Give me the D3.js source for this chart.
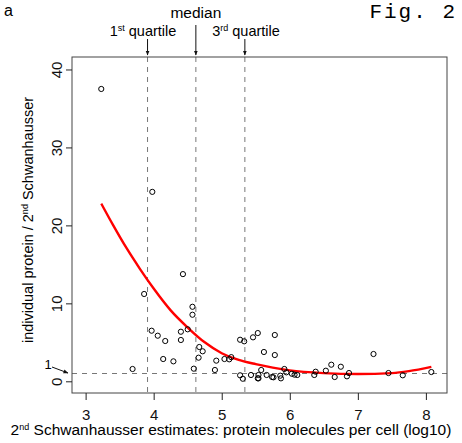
<!DOCTYPE html>
<html><head><meta charset="utf-8">
<script src="https://cdn.jsdelivr.net/npm/d3@7"></script>
<style>body{margin:0;background:#fff}svg{display:block}</style>
</head><body>
<script>
// Data
const pointsX = [3.23,3.98,4.43,3.86,4.57,4.57,3.97,4.06,4.17,4.40,4.50,4.40,4.67,4.72,4.66,4.14,4.29,3.69,4.59,4.92,4.90,5.04,5.11,5.14,5.27,5.33,5.27,5.31,5.43,5.46,5.53,5.53,5.78,5.62,5.78,5.54,5.54,5.58,5.66,5.74,5.76,5.86,5.87,5.92,5.95,6.03,6.07,6.11,6.36,6.38,6.53,6.61,6.66,6.75,6.84,6.87,7.23,7.45,7.66,8.08];
const pointsY = [37.5,24.3,13.75,11.2,9.56,8.54,6.49,5.85,5.17,6.36,6.67,5.3,4.4,3.85,3.03,2.86,2.56,1.58,1.62,2.65,1.45,2.86,2.82,3.1,5.33,5.13,0.77,0.33,0.81,5.64,6.19,0.38,5.94,3.76,3.37,0.81,0.38,1.45,0.81,0.55,0.51,0.72,0.38,1.58,1.15,0.97,0.85,0.81,0.81,1.23,1.36,2.13,0.55,1.87,0.64,1.06,3.5,1.06,0.77,1.19];
const fitX = [3.23,3.4,3.6,3.8,4.0,4.25,4.5,4.75,5.0,5.25,5.5,5.75,6.0,6.5,7.0,7.5,7.75,8.08];
const fitY = [22.8,20.1,17.1,14.4,11.9,9.1,6.9,5.0,3.6,2.75,2.2,1.75,1.4,1.05,0.93,1.05,1.3,1.85];
const quartiles = [3.91,4.62,5.34];
const xTicks = [3,4,5,6,7,8];
const yTicks = [0,10,20,30,40];
const refLine = 1;

const SANS="'Liberation Sans', Arial, Helvetica, sans-serif";
const W=462,H=443;
const L=72,R=447,T=57,B=393;
const svg=d3.select("body").append("svg").attr("width",W).attr("height",H)
  .style("font-family",SANS);
const x=d3.scaleLinear().domain([2.80,8.31]).range([L,R]);
const y=d3.scaleLinear().domain([-1.5,41.6]).range([B,T]);

// dashed reference lines
svg.selectAll("line.q").data(quartiles).enter().append("line")
  .attr("x1",d=>x(d)).attr("x2",d=>x(d)).attr("y1",T).attr("y2",B)
  .attr("stroke","#777").attr("stroke-width",1).attr("stroke-dasharray","5,5");
svg.append("line").attr("x1",L).attr("x2",R).attr("y1",y(refLine)).attr("y2",y(refLine))
  .attr("stroke","#777").attr("stroke-width",1).attr("stroke-dasharray","5,5");

// fit line
const fit=fitX.map((d,i)=>[d,fitY[i]]);
svg.append("path").datum(fit).attr("fill","none").attr("stroke","#ff0000").attr("stroke-width",2.4)
  .attr("d",d3.line().x(d=>x(d[0])).y(d=>y(d[1])).curve(d3.curveMonotoneX));

// points
svg.selectAll("circle").data(pointsX.map((d,i)=>[d,pointsY[i]])).enter().append("circle")
  .attr("cx",d=>x(d[0])).attr("cy",d=>y(d[1])).attr("r",2.6)
  .attr("fill","none").attr("stroke","#000").attr("stroke-width",1);

// box
svg.append("rect").attr("x",L).attr("y",T).attr("width",R-L).attr("height",B-T)
  .attr("fill","none").attr("stroke","#444").attr("stroke-width",1);

// x axis
const xa=svg.append("g").attr("transform",`translate(0,${B})`)
  .call(d3.axisBottom(x).tickValues(xTicks).tickSize(7).tickPadding(9).tickFormat(d3.format("d")));
xa.select(".domain").remove();
xa.selectAll("line").attr("stroke","#222");
xa.selectAll("text").style("font-size","15px").style("font-family",SANS).attr("fill","#111");

// y axis
const ya=svg.append("g").attr("transform",`translate(${L},0)`)
  .call(d3.axisLeft(y).tickValues(yTicks).tickSize(6).tickFormat(d3.format("d")));
ya.select(".domain").remove();
ya.selectAll("line").attr("stroke","#222");
ya.selectAll("text").remove();
ya.selectAll(".tick").append("text")
  .attr("transform","translate(-10,0) rotate(-90)").attr("text-anchor","middle")
  .style("font-size","15px").style("font-family",SANS).attr("fill","#111")
  .text(d=>d);

// "1" marker and arrow
svg.append("defs").append("marker").attr("id","ah").attr("viewBox","0 0 10 10").attr("refX",9).attr("refY",5)
  .attr("markerWidth",5).attr("markerHeight",5).attr("orient","auto")
  .append("path").attr("d","M0,1 L10,5 L0,9 z").attr("fill","#111");
svg.append("text").attr("x",48).attr("y",369).style("font-size","13px").attr("text-anchor","middle").text("1");
svg.append("line").attr("x1",52).attr("y1",367).attr("x2",68).attr("y2",y(refLine)-0.5)
  .attr("stroke","#111").attr("stroke-width",1).attr("marker-end","url(#ah)");

// quartile labels and arrows
function sup(t,main,s,rest){t.append("tspan").text(main);t.append("tspan").style("font-size","9px").attr("dy",-5).text(s);t.append("tspan").attr("dy",5).text(rest);}
const arrows=[[quartiles[0],39],[quartiles[1],25],[quartiles[2],39]];
arrows.forEach(a=>{
  svg.append("line").attr("x1",x(a[0])).attr("x2",x(a[0])).attr("y1",a[1]).attr("y2",T-2)
    .attr("stroke","#111").attr("stroke-width",1).attr("marker-end","url(#ah)");
});
const t1=svg.append("text").attr("x",143).attr("y",36).style("font-size","14.5px").attr("text-anchor","middle");
sup(t1,"1","st"," quartile");
svg.append("text").attr("x",x(quartiles[1])).attr("y",18).style("font-size","15.5px").attr("text-anchor","middle").text("median");
const t3=svg.append("text").attr("x",246).attr("y",36).style("font-size","14.5px").attr("text-anchor","middle");
sup(t3,"3","rd"," quartile");

// axis titles
const xt=svg.append("text").attr("x",(5+457)/2).attr("y",435).style("font-size","15.5px").attr("text-anchor","middle");
sup(xt,"2","nd"," Schwanhausser estimates: protein molecules per cell (log10)");
const yt=svg.append("text").attr("transform","translate(33,220) rotate(-90)").style("font-size","14.5px").attr("text-anchor","middle");
yt.append("tspan").text("individual protein /  2");
yt.append("tspan").style("font-size","9px").attr("dy",-5).text("nd");
yt.append("tspan").attr("dy",5).text(" Schwanhausser");

// panel letter and figure label
svg.append("text").attr("x",4).attr("y",16).style("font-size","16px").text("a");
svg.append("text").attr("x",457).attr("y",18).style("font-size","21px").attr("text-anchor","end")
  .style("font-family","'Liberation Mono', 'Courier New', monospace").style("letter-spacing","2px").text("Fig. 2");
</script>
</body></html>
